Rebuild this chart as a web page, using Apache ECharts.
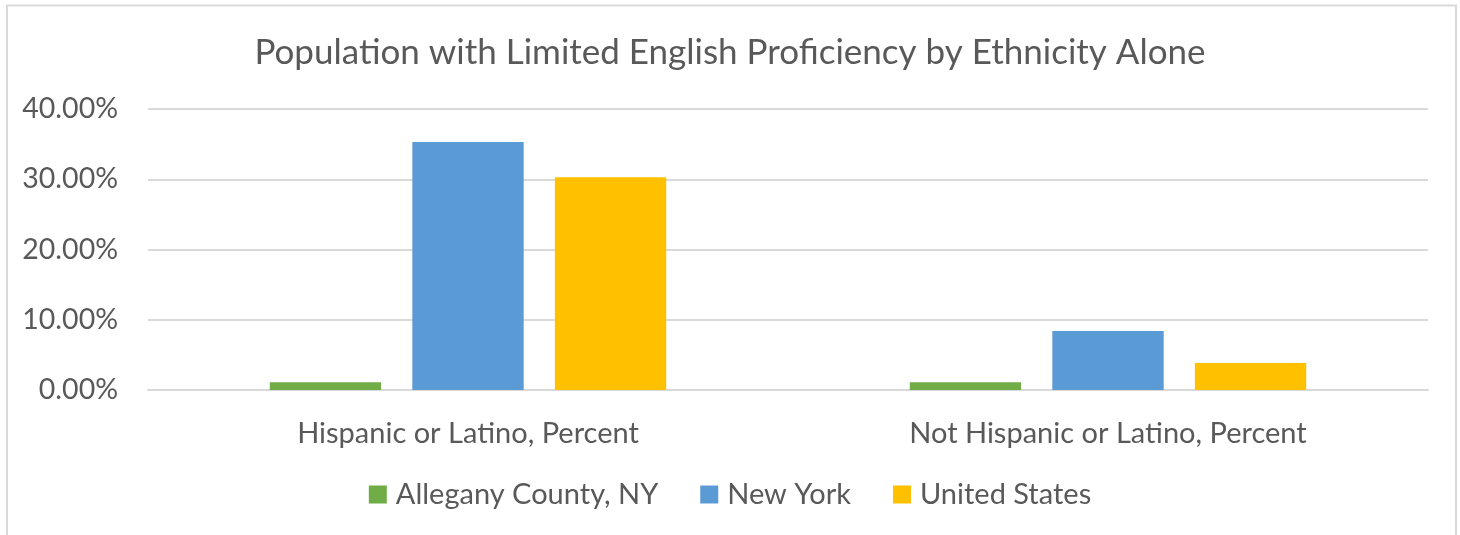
<!DOCTYPE html>
<html>
<head>
<meta charset="utf-8">
<script src="https://cdn.jsdelivr.net/npm/echarts@6/dist/echarts.min.js"></script>
<style>
html,body{margin:0;padding:0;background:#fff;}
#chart{width:1460px;height:535px;}
</style>
</head>
<body>
<div id="chart"></div>
<script>
const categories = ["Hispanic or Latino, Percent", "Not Hispanic or Latino, Percent"];
const seriesNames = ["Allegany County, NY", "New York", "United States"];
const allegany = [1.1, 1.1];
const newYork = [35.3, 8.4];
const unitedStates = [30.3, 3.85];
const yTicks = [0, 10, 20, 30, 40];

const colors = ["#70AD47", "#5B9BD5", "#FFC000"];
const font = "Lato, 'Open Sans', sans-serif";
const chart = echarts.init(document.getElementById('chart'));
const dataSets = [allegany, newYork, unitedStates];
chart.setOption({
  animation: false,
  backgroundColor: '#fff',
  title: {
    text: 'Population with Limited English Proficiency by Ethnicity Alone',
    left: 'center', top: 30,
    textStyle: {color: '#595959', fontSize: 35, fontWeight: 'normal', fontFamily: font}
  },
  graphic: [{
    type: 'rect', shape: {x: 7, y: 5.5, width: 1449, height: 600},
    style: {fill: 'none', stroke: '#d9d9d9', lineWidth: 2}, silent: true
  }],
  legend: {
    data: seriesNames, bottom: 21, left: 'center',
    itemWidth: 18, itemHeight: 18, itemGap: 42,
    icon: 'rect',
    textStyle: {color: '#595959', fontSize: 29, fontFamily: font, padding: [0, 0, 0, 4]}
  },
  grid: {left: 148, right: 32, top: 109, bottom: 145, containLabel: false},
  xAxis: {
    type: 'category', data: categories,
    axisLine: {lineStyle: {color: '#d9d9d9', width: 2}},
    axisTick: {show: false},
    axisLabel: {color: '#595959', fontSize: 29, fontFamily: font, margin: 29}
  },
  yAxis: {
    type: 'value', min: yTicks[0], max: yTicks[yTicks.length - 1], interval: 10,
    axisLine: {show: false}, axisTick: {show: false},
    splitLine: {lineStyle: {color: '#d9d9d9', width: 2}},
    axisLabel: {color: '#595959', fontSize: 28.5, fontFamily: font, margin: 30,
      formatter: v => v.toFixed(2) + '%'}
  },
  series: seriesNames.map((n, i) => ({
    name: n, type: 'bar', data: dataSets[i],
    barWidth: '17.4%', barGap: '28%',
    itemStyle: {color: colors[i]}
  }))
});
</script>
</body>
</html>
